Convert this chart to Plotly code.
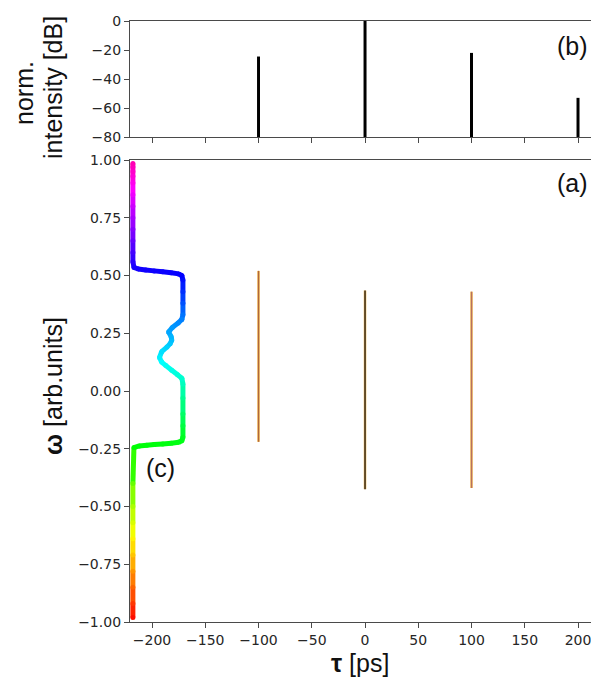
import colorsys
import plotly.graph_objects as go

# ---------------- data ----------------
# (b) normalized intensity peaks
tau_peaks = [-100, 0, 100, 200]
intensity_db = [-24.5, 0, -22, -53]

# (a) vertical traces in the map
tau_a = [-100, 0, 100]
omega_lo = [-0.22, -0.425, -0.42]
omega_hi = [0.52, 0.435, 0.43]
core_colors = ["#b0663c", "#2a1d12", "#b8705e"]

# (c) coloured curve (tau, omega)
tau_c = [-218, -218, -218, -218, -218, -218, -218, -218, -218, -217,
         -212, -205, -198, -190, -182, -175, -172, -171, -171, -171,
         -171, -171, -172, -176, -181.5, -187, -191, -193, -191, -186,
         -183, -181.5, -182, -184.5, -181, -175.5, -172, -171, -171, -171,
         -171, -172, -175, -182, -190, -198, -206, -213, -217, -218,
         -218, -218, -218, -218, -218, -218, -218, -218, -218, -218,
         -218]
omega_c = [-0.98, -0.92, -0.85, -0.78, -0.71, -0.64, -0.57, -0.50, -0.40, -0.245,
           -0.238, -0.235, -0.232, -0.229, -0.226, -0.222, -0.215, -0.20, -0.15, -0.10,
           -0.03, 0.03, 0.055, 0.07, 0.09, 0.11, 0.125, 0.145, 0.17, 0.19,
           0.205, 0.22, 0.235, 0.255, 0.275, 0.294, 0.31, 0.33, 0.38, 0.43,
           0.48, 0.50, 0.507, 0.512, 0.516, 0.52, 0.524, 0.528, 0.535, 0.56,
           0.60, 0.65, 0.70, 0.75, 0.80, 0.85, 0.90, 0.93, 0.95, 0.97,
           0.985]

x_ticks = [-200, -150, -100, -50, 0, 50, 100, 150, 200]
y_ticks_top = [0, -20, -40, -60, -80]
y_ticks_bot = [-1.0, -0.75, -0.5, -0.25, 0.0, 0.25, 0.5, 0.75, 1.0]

# ---------------- style helpers ----------------
W, H = 591, 682
L = 130
AX = "#4a4a4a"
TICKFONT = dict(family="DejaVu Sans", size=14, color="#262626")
LBLFONT = dict(family="Liberation Sans, Arial", size=25, color="#111")


def omega_color(w):
    h = max(0.0, min(1.0, (w + 1) * 160 / 360.0))
    r, g, b = colorsys.hsv_to_rgb(h, 1, 1)
    return "rgb(%d,%d,%d)" % (r * 255, g * 255, b * 255)


def py(p):
    return 1 - p / H


def px(p):
    return (p - L) / (W - L)


fig = go.Figure()

# top panel stems
xs, ys = [], []
for t, v in zip(tau_peaks, intensity_db):
    xs += [t, t, None]
    ys += [-80, v, None]
fig.add_trace(go.Scatter(x=xs, y=ys, mode="lines", line=dict(color="black", width=3),
                         xaxis="x", yaxis="y", showlegend=False, hoverinfo="skip"))

# bottom panel vertical traces
for t, lo, hi, cc in zip(tau_a, omega_lo, omega_hi, core_colors):
    fig.add_trace(go.Scatter(x=[t, t], y=[lo, hi], mode="lines",
                             line=dict(color="#f6c35e", width=2.6),
                             xaxis="x2", yaxis="y2", showlegend=False, hoverinfo="skip"))
    fig.add_trace(go.Scatter(x=[t, t], y=[lo, hi], mode="lines",
                             line=dict(color=cc, width=1.4),
                             xaxis="x2", yaxis="y2", showlegend=False, hoverinfo="skip"))

# coloured curve as segments
for i in range(len(tau_c) - 1):
    wm = 0.5 * (omega_c[i] + omega_c[i + 1])
    fig.add_trace(go.Scatter(x=[tau_c[i], tau_c[i + 1]], y=[omega_c[i], omega_c[i + 1]],
                             mode="lines", line=dict(color=omega_color(wm), width=5),
                             xaxis="x2", yaxis="y2", showlegend=False, hoverinfo="skip"))
fig.add_trace(go.Scatter(x=tau_c, y=omega_c, mode="markers",
                         marker=dict(size=5, color=[omega_color(w) for w in omega_c], line=dict(width=0)),
                         xaxis="x2", yaxis="y2", showlegend=False, hoverinfo="skip"))

xr = [-220.7, 212.2]
common_x = dict(range=xr, tickvals=x_ticks, ticks="outside", ticklen=5, tickwidth=1,
                tickcolor=AX, showline=True, linecolor=AX, linewidth=1.3, mirror=True,
                showgrid=False, zeroline=False, automargin=False, ticklabeloverflow="allow")
common_y = dict(ticks="outside", ticklen=5, tickwidth=1, tickcolor=AX, showline=True,
                linecolor=AX, linewidth=1.3, showgrid=False, zeroline=False,
                tickfont=TICKFONT, automargin=False)

fig.update_layout(
    width=W, height=H,
    margin=dict(l=L, r=0, t=0, b=0),
    paper_bgcolor="white", plot_bgcolor="white",
    xaxis=dict(**common_x, domain=[0, 1], anchor="y", showticklabels=False),
    yaxis=dict(**common_y, domain=[py(137), py(21)], range=[-80, 0], tickvals=y_ticks_top,
               anchor="x"),
    xaxis2=dict(**common_x, domain=[0, 1], anchor="y2", showticklabels=True, tickfont=TICKFONT),
    yaxis2=dict(**common_y, domain=[py(622), py(160)], range=[-1.0, 1.0], tickvals=y_ticks_bot,
                tickformat=".2f", anchor="x2"),
    showlegend=False,
)

ann = [
    dict(text="norm.", x=24, y=93, textangle=-90),
    dict(text="intensity [dB]", x=53, y=88, textangle=-90),
    dict(text="<b>ω</b> [arb.units]", x=53, y=386, textangle=-90),
    dict(text="<b>τ</b> [ps]", x=360, y=663, textangle=0),
    dict(text="(c)", x=160, y=468, textangle=0),
]
annotations = []
for a in ann:
    annotations.append(dict(text=a["text"], x=px(a["x"]), y=py(a["y"]), xref="paper", yref="paper",
                            xanchor="center", yanchor="middle", showarrow=False,
                            textangle=a["textangle"], font=LBLFONT))
for txt, yy in [("(b)", 46), ("(a)", 183)]:
    annotations.append(dict(text=txt, x=px(590), y=py(yy), xref="paper", yref="paper",
                            xanchor="right", yanchor="middle", showarrow=False, font=LBLFONT))
fig.update_layout(annotations=annotations)

fig.write_html("out.html")
